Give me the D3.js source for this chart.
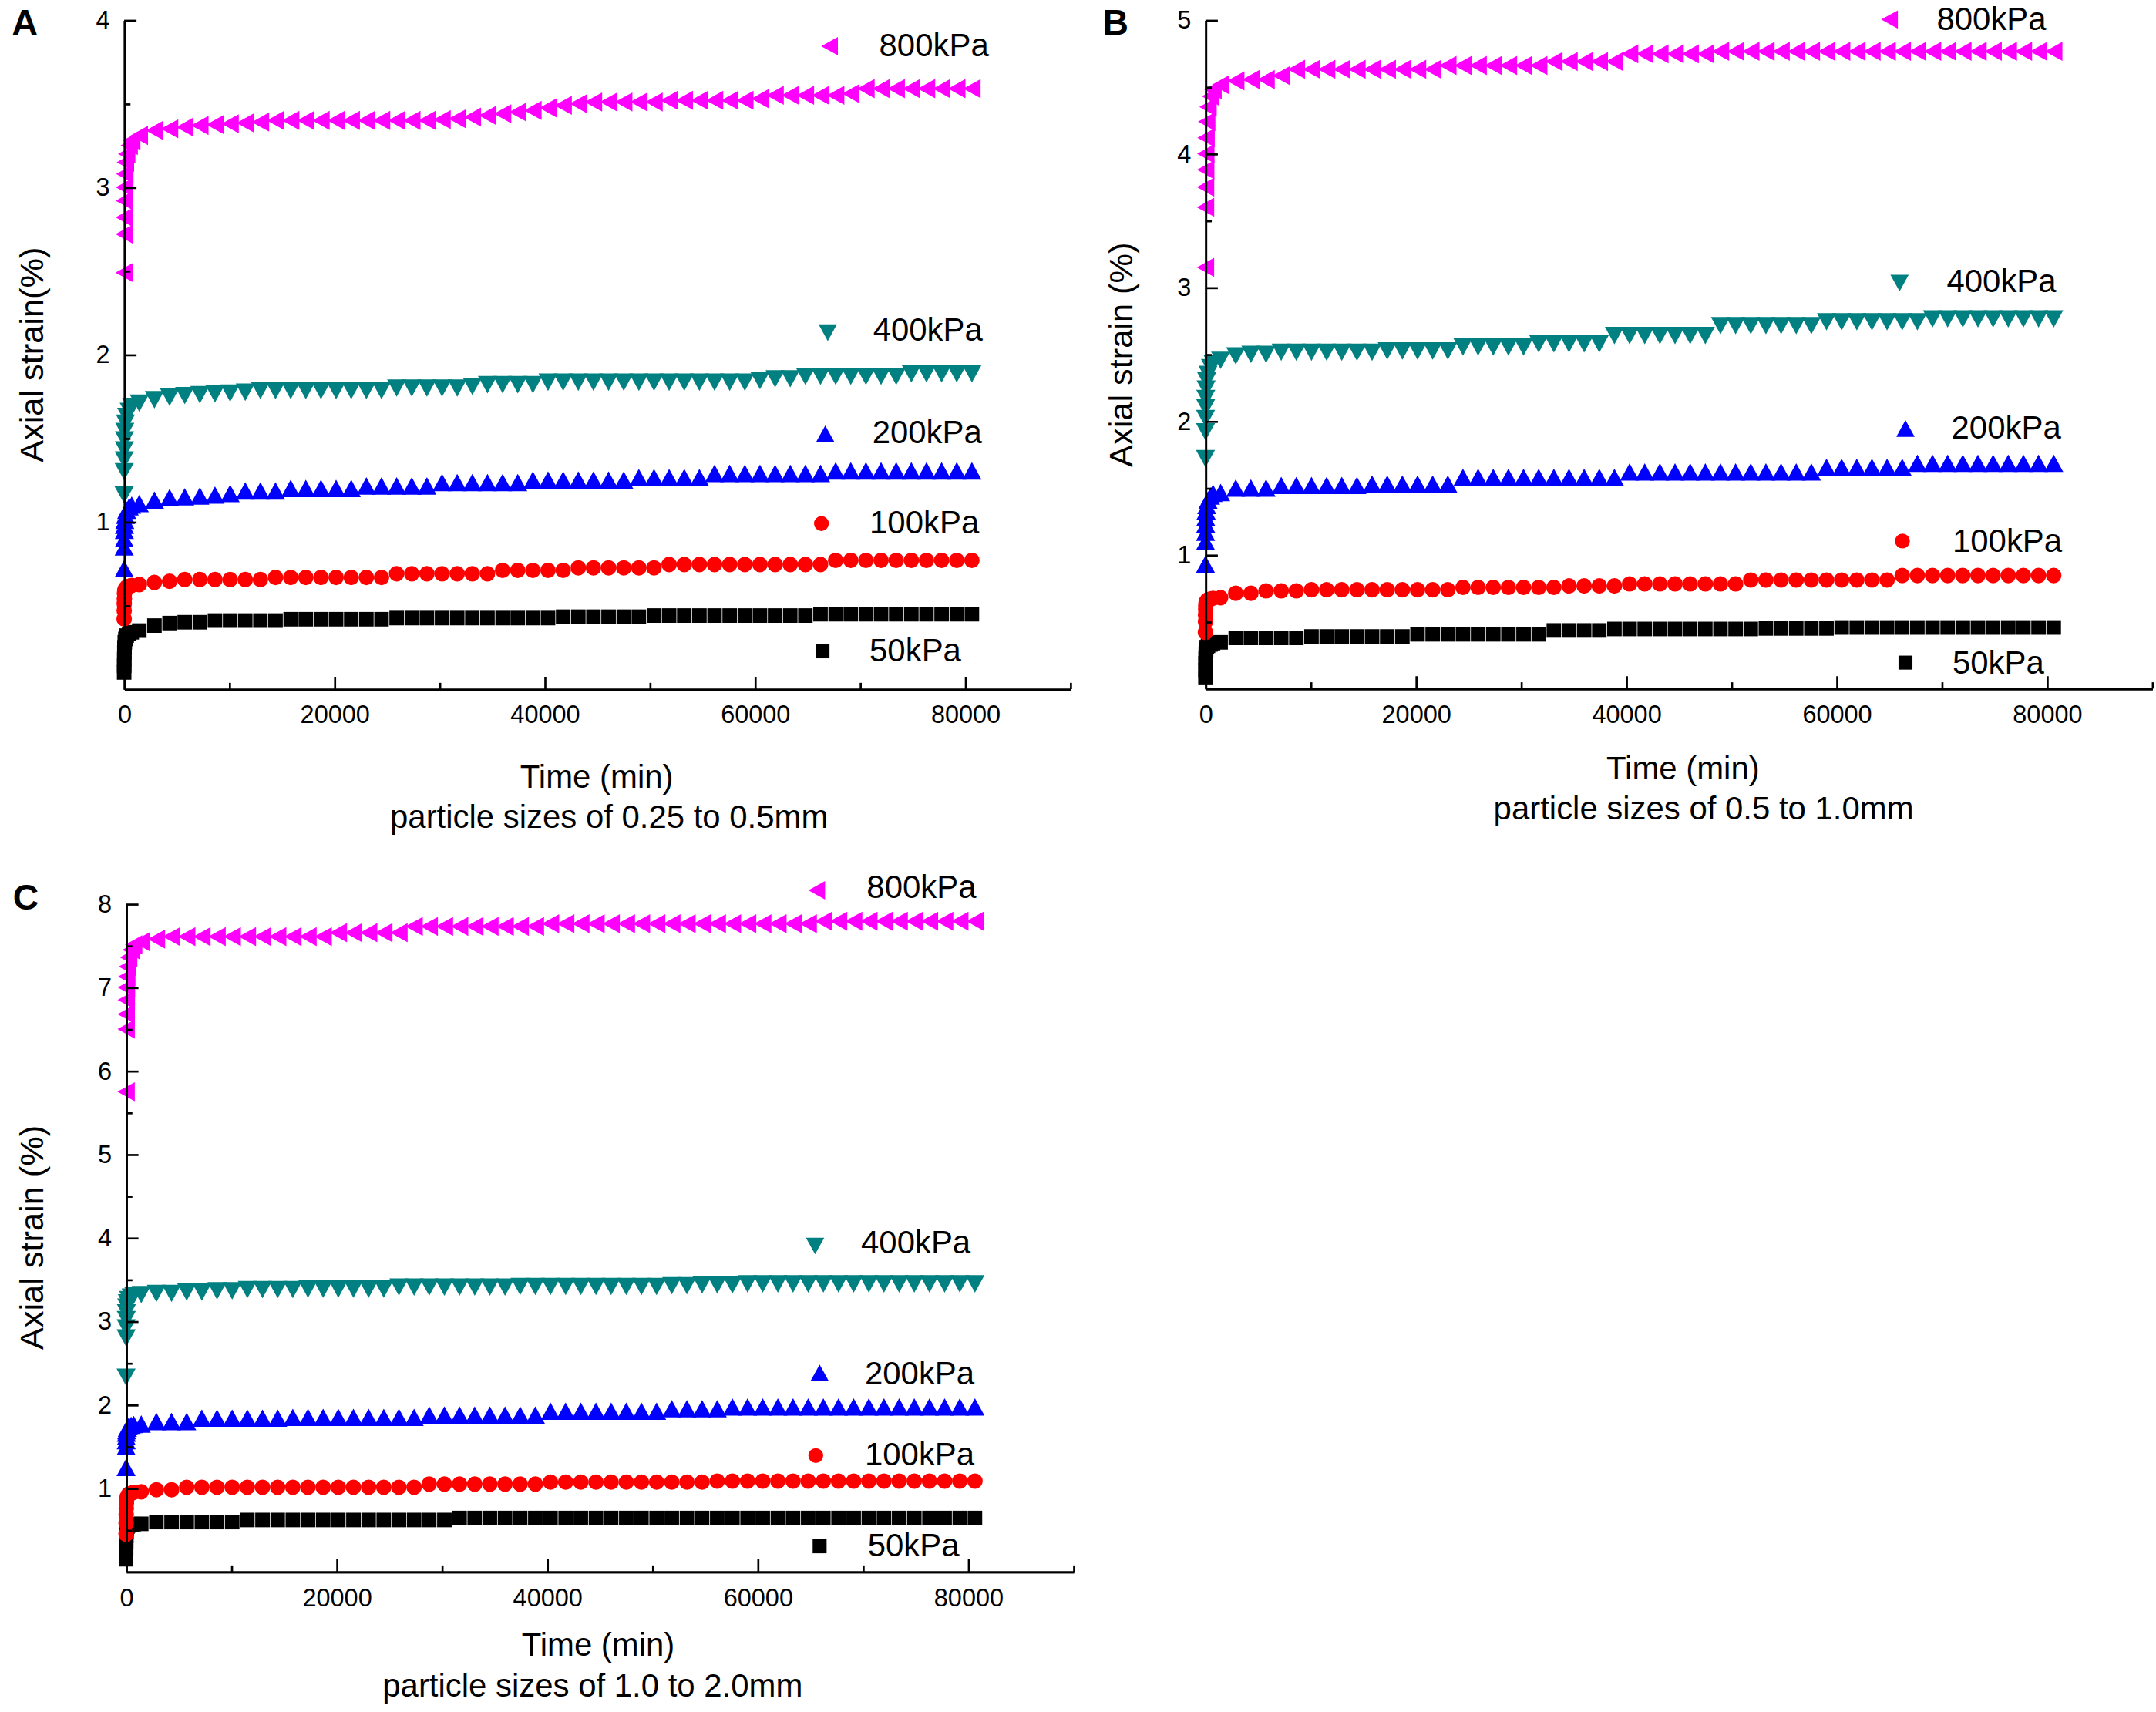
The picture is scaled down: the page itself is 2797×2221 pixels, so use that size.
<!DOCTYPE html>
<html>
<head>
<meta charset="utf-8">
<script src="https://cdn.jsdelivr.net/npm/d3@7"></script>
<style>
  body { margin: 0; background: #fff; }
</style>
</head>
<body>
<div id="chart"></div>
<script>

// ---- data ----
var pressures = ["50kPa", "100kPa", "200kPa", "400kPa", "800kPa"];

// minutes: early readings, then one reading a day
var timeMin = [0, 5, 10, 20, 30, 60, 120, 240, 480, 720,
  1440, 2880, 4320, 5760, 7200, 8640, 10080, 11520, 12960, 14400,
  15840, 17280, 18720, 20160, 21600, 23040, 24480, 25920, 27360, 28800,
  30240, 31680, 33120, 34560, 36000, 37440, 38880, 40320, 41760, 43200,
  44640, 46080, 47520, 48960, 50400, 51840, 53280, 54720, 56160, 57600,
  59040, 60480, 61920, 63360, 64800, 66240, 67680, 69120, 70560, 72000,
  73440, 74880, 76320, 77760, 79200, 80640];

// panel A, particle sizes 0.25 to 0.5mm
var strainA50 = [0.1, 0.14, 0.18, 0.22, 0.25, 0.28, 0.3, 0.32, 0.33, 0.34,
  0.35, 0.38, 0.395, 0.4, 0.4, 0.41, 0.41, 0.41, 0.41, 0.41,
  0.418, 0.418, 0.418, 0.418, 0.418, 0.418, 0.418, 0.425, 0.425, 0.425,
  0.425, 0.425, 0.425, 0.425, 0.425, 0.425, 0.425, 0.425, 0.433, 0.433,
  0.433, 0.433, 0.433, 0.433, 0.44, 0.44, 0.44, 0.44, 0.44, 0.44,
  0.44, 0.44, 0.44, 0.44, 0.44, 0.448, 0.448, 0.448, 0.448, 0.448,
  0.448, 0.448, 0.448, 0.448, 0.448, 0.448];
var strainA100 = [0.42, 0.47, 0.51, 0.54, 0.57, 0.59, 0.6, 0.61, 0.615, 0.62,
  0.625, 0.638, 0.645, 0.655, 0.655, 0.655, 0.655, 0.655, 0.655, 0.668,
  0.668, 0.668, 0.668, 0.668, 0.668, 0.668, 0.668, 0.69, 0.69, 0.69,
  0.69, 0.69, 0.69, 0.69, 0.71, 0.71, 0.71, 0.71, 0.71, 0.725,
  0.725, 0.725, 0.725, 0.725, 0.725, 0.745, 0.745, 0.745, 0.745, 0.745,
  0.745, 0.745, 0.745, 0.745, 0.745, 0.745, 0.77, 0.77, 0.77, 0.77,
  0.77, 0.77, 0.77, 0.77, 0.77, 0.77];
var strainA200 = [0.72, 0.85, 0.9, 0.95, 0.98, 1.01, 1.04, 1.07, 1.09, 1.1,
  1.11, 1.13, 1.145, 1.15, 1.155, 1.16, 1.17, 1.185, 1.185, 1.185,
  1.2, 1.2, 1.2, 1.2, 1.2, 1.215, 1.215, 1.215, 1.215, 1.215,
  1.235, 1.235, 1.235, 1.235, 1.235, 1.235, 1.25, 1.25, 1.25, 1.25,
  1.25, 1.25, 1.25, 1.265, 1.265, 1.265, 1.265, 1.265, 1.29, 1.29,
  1.29, 1.29, 1.29, 1.29, 1.29, 1.29, 1.305, 1.305, 1.305, 1.305,
  1.305, 1.305, 1.305, 1.305, 1.305, 1.305];
var strainA400 = [1.16, 1.3, 1.37, 1.43, 1.49, 1.54, 1.59, 1.63, 1.66, 1.69,
  1.71, 1.73, 1.745, 1.755, 1.76, 1.765, 1.77, 1.775, 1.785, 1.785,
  1.785, 1.785, 1.785, 1.785, 1.785, 1.785, 1.785, 1.8, 1.8, 1.8,
  1.8, 1.8, 1.81, 1.82, 1.82, 1.82, 1.82, 1.835, 1.835, 1.835,
  1.835, 1.835, 1.835, 1.835, 1.835, 1.835, 1.835, 1.835, 1.835, 1.835,
  1.835, 1.845, 1.855, 1.855, 1.87, 1.87, 1.87, 1.87, 1.87, 1.87,
  1.87, 1.885, 1.885, 1.885, 1.885, 1.885];
var strainA800 = [2.49, 2.72, 2.82, 2.92, 3.0, 3.08, 3.15, 3.2, 3.25, 3.28,
  3.31, 3.34, 3.35, 3.36, 3.37, 3.375, 3.38, 3.385, 3.39, 3.4,
  3.4, 3.4, 3.4, 3.4, 3.4, 3.4, 3.4, 3.4, 3.4, 3.4,
  3.405, 3.41, 3.42, 3.43, 3.44, 3.45, 3.46, 3.475, 3.49, 3.5,
  3.51, 3.51, 3.51, 3.51, 3.51, 3.52, 3.52, 3.52, 3.52, 3.52,
  3.52, 3.53, 3.55, 3.55, 3.55, 3.55, 3.55, 3.56, 3.59, 3.59,
  3.59, 3.59, 3.59, 3.59, 3.59, 3.59];

// panel B, particle sizes 0.5 to 1.0mm
var strainB50 = [0.08, 0.14, 0.19, 0.23, 0.26, 0.29, 0.31, 0.32, 0.33, 0.34,
  0.346, 0.379, 0.379, 0.379, 0.379, 0.379, 0.39, 0.39, 0.39, 0.39,
  0.39, 0.39, 0.39, 0.406, 0.406, 0.406, 0.406, 0.406, 0.406, 0.406,
  0.406, 0.406, 0.435, 0.435, 0.435, 0.435, 0.446, 0.446, 0.446, 0.446,
  0.446, 0.446, 0.446, 0.446, 0.446, 0.446, 0.45, 0.45, 0.45, 0.45,
  0.45, 0.457, 0.457, 0.457, 0.457, 0.457, 0.457, 0.457, 0.457, 0.457,
  0.457, 0.457, 0.457, 0.457, 0.457, 0.457];
var strainB100 = [0.42, 0.5, 0.55, 0.59, 0.62, 0.64, 0.655, 0.665, 0.67, 0.675,
  0.68, 0.713, 0.713, 0.731, 0.731, 0.731, 0.739, 0.739, 0.739, 0.739,
  0.739, 0.739, 0.739, 0.739, 0.739, 0.739, 0.757, 0.757, 0.757, 0.757,
  0.757, 0.757, 0.757, 0.768, 0.768, 0.768, 0.768, 0.783, 0.783, 0.783,
  0.783, 0.783, 0.783, 0.783, 0.783, 0.812, 0.812, 0.812, 0.812, 0.812,
  0.812, 0.812, 0.812, 0.812, 0.812, 0.846, 0.846, 0.846, 0.846, 0.846,
  0.846, 0.846, 0.846, 0.846, 0.846, 0.846];
var strainB200 = [0.93, 1.1, 1.17, 1.23, 1.28, 1.33, 1.37, 1.41, 1.44, 1.46,
  1.467, 1.5, 1.5, 1.5, 1.52, 1.52, 1.52, 1.52, 1.52, 1.52,
  1.53, 1.53, 1.53, 1.53, 1.53, 1.53, 1.58, 1.58, 1.58, 1.58,
  1.58, 1.58, 1.58, 1.58, 1.58, 1.58, 1.58, 1.62, 1.62, 1.62,
  1.62, 1.62, 1.62, 1.62, 1.62, 1.62, 1.62, 1.62, 1.62, 1.62,
  1.655, 1.655, 1.655, 1.655, 1.655, 1.655, 1.685, 1.685, 1.685, 1.685,
  1.685, 1.685, 1.685, 1.685, 1.685, 1.685];
var strainB400 = [1.72, 1.92, 2.02, 2.1, 2.17, 2.24, 2.3, 2.35, 2.4, 2.43,
  2.455, 2.488, 2.5, 2.5, 2.515, 2.515, 2.515, 2.515, 2.515, 2.515,
  2.515, 2.525, 2.525, 2.525, 2.525, 2.525, 2.555, 2.555, 2.555, 2.555,
  2.555, 2.578, 2.578, 2.578, 2.578, 2.578, 2.64, 2.64, 2.64, 2.64,
  2.64, 2.64, 2.64, 2.714, 2.714, 2.714, 2.714, 2.714, 2.714, 2.714,
  2.743, 2.743, 2.743, 2.743, 2.743, 2.743, 2.743, 2.765, 2.765, 2.765,
  2.765, 2.765, 2.765, 2.765, 2.765, 2.765];
var strainB800 = [3.15, 3.6, 3.75, 3.88, 4.0, 4.12, 4.24, 4.35, 4.43, 4.48,
  4.516, 4.545, 4.555, 4.555, 4.584, 4.632, 4.632, 4.632, 4.632, 4.632,
  4.632, 4.632, 4.632, 4.632, 4.632, 4.66, 4.66, 4.66, 4.66, 4.66,
  4.66, 4.66, 4.69, 4.69, 4.69, 4.69, 4.69, 4.747, 4.747, 4.747,
  4.747, 4.747, 4.747, 4.766, 4.766, 4.766, 4.766, 4.766, 4.766, 4.766,
  4.766, 4.766, 4.766, 4.766, 4.766, 4.766, 4.766, 4.766, 4.766, 4.766,
  4.766, 4.766, 4.766, 4.766, 4.766, 4.766];

// panel C, particle sizes 1.0 to 2.0mm
var strainC50 = [0.15, 0.27, 0.36, 0.43, 0.48, 0.52, 0.54, 0.555, 0.565, 0.57,
  0.574, 0.595, 0.595, 0.595, 0.595, 0.595, 0.595, 0.62, 0.62, 0.62,
  0.62, 0.62, 0.62, 0.62, 0.62, 0.62, 0.62, 0.62, 0.62, 0.62,
  0.62, 0.644, 0.644, 0.644, 0.644, 0.644, 0.644, 0.644, 0.644, 0.644,
  0.644, 0.644, 0.644, 0.644, 0.644, 0.644, 0.644, 0.644, 0.644, 0.644,
  0.644, 0.644, 0.644, 0.644, 0.644, 0.644, 0.644, 0.644, 0.644, 0.644,
  0.644, 0.644, 0.644, 0.644, 0.644, 0.644];
var strainC100 = [0.45, 0.58, 0.68, 0.76, 0.82, 0.87, 0.9, 0.93, 0.94, 0.95,
  0.957, 0.982, 0.982, 1.012, 1.012, 1.012, 1.012, 1.012, 1.012, 1.012,
  1.012, 1.012, 1.012, 1.012, 1.012, 1.012, 1.012, 1.012, 1.012, 1.05,
  1.05, 1.05, 1.05, 1.05, 1.05, 1.05, 1.05, 1.074, 1.074, 1.074,
  1.074, 1.074, 1.074, 1.074, 1.074, 1.074, 1.074, 1.074, 1.086, 1.086,
  1.086, 1.086, 1.086, 1.086, 1.086, 1.086, 1.086, 1.086, 1.086, 1.086,
  1.086, 1.086, 1.086, 1.086, 1.086, 1.086];
var strainC200 = [1.25, 1.5, 1.57, 1.62, 1.66, 1.69, 1.72, 1.74, 1.755, 1.765,
  1.77, 1.8, 1.8, 1.8, 1.84, 1.84, 1.84, 1.84, 1.84, 1.84,
  1.85, 1.85, 1.85, 1.85, 1.85, 1.85, 1.85, 1.85, 1.85, 1.877,
  1.877, 1.877, 1.877, 1.877, 1.877, 1.877, 1.877, 1.923, 1.923, 1.923,
  1.923, 1.923, 1.923, 1.923, 1.923, 1.954, 1.954, 1.954, 1.954, 1.975,
  1.975, 1.975, 1.975, 1.975, 1.975, 1.975, 1.975, 1.975, 1.975, 1.975,
  1.975, 1.975, 1.975, 1.975, 1.975, 1.975];
var strainC400 = [2.33, 2.8, 2.92, 3.02, 3.1, 3.17, 3.22, 3.26, 3.29, 3.31,
  3.32, 3.334, 3.334, 3.35, 3.35, 3.365, 3.365, 3.38, 3.38, 3.38,
  3.38, 3.386, 3.386, 3.386, 3.386, 3.386, 3.386, 3.41, 3.41, 3.41,
  3.41, 3.41, 3.41, 3.41, 3.41, 3.417, 3.417, 3.417, 3.417, 3.417,
  3.417, 3.417, 3.417, 3.417, 3.417, 3.426, 3.426, 3.435, 3.435, 3.435,
  3.448, 3.448, 3.448, 3.448, 3.448, 3.448, 3.448, 3.448, 3.448, 3.448,
  3.448, 3.448, 3.448, 3.448, 3.448, 3.448];
var strainC800 = [5.75, 6.5, 6.68, 6.85, 7.0, 7.13, 7.25, 7.36, 7.45, 7.51,
  7.547, 7.578, 7.608, 7.608, 7.608, 7.608, 7.608, 7.608, 7.608, 7.608,
  7.608, 7.608, 7.608, 7.655, 7.655, 7.655, 7.655, 7.655, 7.731, 7.731,
  7.731, 7.731, 7.731, 7.731, 7.731, 7.731, 7.731, 7.763, 7.763, 7.763,
  7.763, 7.763, 7.763, 7.763, 7.763, 7.763, 7.763, 7.763, 7.763, 7.763,
  7.763, 7.763, 7.763, 7.763, 7.763, 7.793, 7.793, 7.793, 7.793, 7.793,
  7.793, 7.793, 7.793, 7.793, 7.793, 7.793];

// tick values
var xTicks = [0, 20000, 40000, 60000, 80000];
var xMinorTicks = [10000, 30000, 50000, 70000, 90000];
var yTicksA = [1, 2, 3, 4];
var yMinorA = [0.5, 1.5, 2.5, 3.5];
var yTicksB = [1, 2, 3, 4, 5];
var yMinorB = [0.5, 1.5, 2.5, 3.5, 4.5];
var yTicksC = [1, 2, 3, 4, 5, 6, 7, 8];
var yMinorC = [0.5, 1.5, 2.5, 3.5, 4.5, 5.5, 6.5, 7.5];

// ---- drawing ----
var W = 2797, H = 2221;
var VW = 1568, VH = VW * H / W;   // layout measured on a 1568 wide copy

var svg = d3.select("#chart").append("svg")
    .attr("width", W)
    .attr("height", H)
    .attr("viewBox", "0 0 " + VW + " " + VH)
    .style("font-family", "'Liberation Sans', Arial, sans-serif");

svg.append("rect").attr("width", VW).attr("height", VH).attr("fill", "#fff");

// Origin style markers (a bit wider than tall)
var triUp = { draw: function(ctx, size) {
  var b = Math.sqrt(size) / 2, a = b * 1.1;
  ctx.moveTo(0, -b); ctx.lineTo(a, b); ctx.lineTo(-a, b); ctx.closePath();
}};
var triDown = { draw: function(ctx, size) {
  var b = Math.sqrt(size) / 2, a = b * 1.1;
  ctx.moveTo(0, b); ctx.lineTo(a, -b); ctx.lineTo(-a, -b); ctx.closePath();
}};
var triLeft = { draw: function(ctx, size) {
  var b = Math.sqrt(size) / 2, a = b * 1.1;
  ctx.moveTo(-b, 0); ctx.lineTo(b, -a); ctx.lineTo(b, a); ctx.closePath();
}};

var styles = [
  { type: d3.symbolSquare, size: 112, color: "#000000" },
  { type: d3.symbolCircle, size: 100, color: "#FF0000" },
  { type: triUp, size: 160, color: "#0000FF" },
  { type: triDown, size: 160, color: "#008080" },
  { type: triLeft, size: 160, color: "#FF00FF" }
];

var panels = [
  { letter: "A", lx: 8.7, ly: 25.2,
    series: [strainA50, strainA100, strainA200, strainA400, strainA800],
    yMax: 4, yTicks: yTicksA, yMinor: yMinorA,
    left: 90.3, right: 778.4, bottom: 501.2, top: 14.6,
    yTitle: "Axial strain(%)", ytx: 23, yty: 258,
    xTitle: "Time (min)", xtx: 434, xty: 573,
    sub: "particle sizes of 0.25 to 0.5mm", stx: 443, sty: 602,
    legend: [[598.2, 473.7, 632.4, 481.2], [597.4, 380.8, 632.4, 387.8], [600.2, 315.5, 634.4, 322.3],
             [602, 242, 635, 247.6], [603.3, 33.6, 639.4, 40.7]] },
  { letter: "B", lx: 802, ly: 25.2,
    series: [strainB50, strainB100, strainB200, strainB400, strainB800],
    yMax: 5, yTicks: yTicksB, yMinor: yMinorB,
    left: 876.7, right: 1565.2, bottom: 500.8, top: 14.6,
    yTitle: "Axial strain (%)", ytx: 815, yty: 258,
    xTitle: "Time (min)", xtx: 1224, xty: 567,
    sub: "particle sizes of 0.5 to 1.0mm", stx: 1239, sty: 596,
    legend: [[1385.8, 481.9, 1420, 489.9], [1383.6, 393.5, 1420, 401.4], [1385.8, 311.6, 1419.2, 319.1],
             [1381.5, 205.9, 1415.8, 212.4], [1374.2, 14.2, 1408.5, 21.8]] },
  { letter: "C", lx: 9.4, ly: 661.5,
    series: [strainC50, strainC100, strainC200, strainC400, strainC800],
    yMax: 8, yTicks: yTicksC, yMinor: yMinorC,
    left: 91.7, right: 780.7, bottom: 1143.1, top: 657.4,
    yTitle: "Axial strain (%)", ytx: 23, yty: 900,
    xTitle: "Time (min)", xtx: 435, xty: 1204,
    sub: "particle sizes of 1.0 to 2.0mm", stx: 431, sty: 1234,
    legend: [[596.1, 1124.6, 631.1, 1131.6], [593.3, 1058.6, 629, 1065.5], [596.1, 998.4, 629, 1006.8],
             [592.8, 906.2, 626.2, 911.8], [594, 647.5, 630.3, 653]] }
];

function styleAxis(fontSize) {
  return function(g) {
    g.attr("font-family", null).attr("font-size", null);
    g.select(".domain").attr("stroke", "#000").attr("stroke-width", 1.5);
    g.selectAll(".tick line").attr("stroke", "#000").attr("stroke-width", 1.5);
    g.selectAll(".tick text").attr("fill", "#000").style("font-size", fontSize + "px");
  };
}

panels.forEach(function(p) {
  var g = svg.append("g");

  var x = d3.scaleLinear().domain([0, 90000]).range([p.left, p.right]);
  var y = d3.scaleLinear().domain([0, p.yMax]).range([p.bottom, p.top]);

  // markers
  p.series.forEach(function(vals, si) {
    var st = styles[si];
    var sym = d3.symbol().type(st.type).size(st.size);
    g.append("g").selectAll("path")
      .data(vals.map(function(v, i) { return [timeMin[i], v]; }))
      .enter()
      .append("path")
      .attr("transform", function(d) { return "translate(" + x(d[0]) + "," + y(d[1]) + ")"; })
      .attr("d", sym())
      .attr("fill", st.color);
  });

  // x axis
  g.append("g")
    .attr("transform", "translate(0," + p.bottom + ")")
    .call(d3.axisBottom(x).tickValues(xMinorTicks).tickSize(-4.6).tickSizeOuter(0).tickFormat(""))
    .call(styleAxis(18.2));
  g.append("g")
    .attr("transform", "translate(0," + p.bottom + ")")
    .call(d3.axisBottom(x).tickValues(xTicks).tickSize(-9).tickSizeOuter(0).tickPadding(12)
      .tickFormat(d3.format("d")))
    .call(styleAxis(18.2));

  // y axis
  g.append("g")
    .attr("transform", "translate(" + p.left + ",0)")
    .call(d3.axisLeft(y).tickValues(p.yMinor).tickSize(-4.6).tickSizeOuter(0).tickFormat(""))
    .call(styleAxis(18.2));
  g.append("g")
    .attr("transform", "translate(" + p.left + ",0)")
    .call(d3.axisLeft(y).tickValues(p.yTicks).tickSize(-9).tickSizeOuter(0).tickPadding(10.4)
      .tickFormat(d3.format("d")))
    .call(styleAxis(18.2));

  // titles
  g.append("text")
    .attr("x", p.lx).attr("y", p.ly)
    .attr("font-weight", "bold").attr("font-size", 26)
    .text(p.letter);

  g.append("text")
    .attr("transform", "translate(" + p.ytx + "," + p.yty + ") rotate(-90)")
    .attr("text-anchor", "middle").attr("dy", "0.35em")
    .attr("font-size", 24.3)
    .text(p.yTitle);

  g.append("text")
    .attr("x", p.xtx).attr("y", p.xty)
    .attr("text-anchor", "middle").attr("font-size", 23.5)
    .text(p.xTitle);

  g.append("text")
    .attr("x", p.stx).attr("y", p.sty)
    .attr("text-anchor", "middle").attr("font-size", 23.5)
    .text(p.sub);

  // legend, placed beside each curve
  p.legend.forEach(function(pos, si) {
    var st = styles[si];
    g.append("path")
      .attr("transform", "translate(" + pos[0] + "," + pos[1] + ")")
      .attr("d", d3.symbol().type(st.type).size(st.size * 0.92)())
      .attr("fill", st.color);
    g.append("text")
      .attr("x", pos[2]).attr("y", pos[3])
      .attr("font-size", 23.5)
      .text(pressures[si]);
  });
});

</script>
</body>
</html>
